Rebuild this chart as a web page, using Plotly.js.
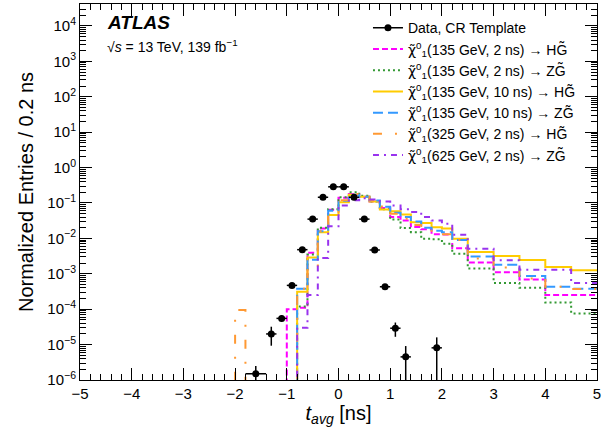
<!DOCTYPE html>
<html>
<head>
<meta charset="utf-8">
<script src="https://cdn.plot.ly/plotly-3.0.1.min.js"></script>
<style>html,body{margin:0;padding:0;background:#fff;}#plot{width:613px;height:436px;}</style>
</head>
<body>
<div id="plot"></div>
<script>
// Bin edges (ns)
var binEdges = [-2.2,-2.0,-1.8,-1.6,-1.4,-1.2,-1.0,-0.8,-0.6,-0.4,-0.2,0.0,0.2,0.4,0.6,0.8,1.0,1.2,1.4,1.6,1.8,2.0,2.2,2.5,3.0,3.5,4.0,4.5,5.0];

// Signal templates (normalized entries per bin)
var sigH135_2ns  = [0,0,0,0,0,0, 1.0e-4,1.1e-4,3.9e-3,0.019,0.064,0.14,0.18,0.15,0.11,0.072,0.040,0.032,0.021,0.018,0.013,0.0128,0.0053,2.1e-3,1.1e-3,6.9e-4,2.5e-4,2.5e-4];
var sigZ135_2ns  = [0,0,0,0,0,0, 0,1.2e-4,3.5e-3,0.020,0.067,0.145,0.20,0.16,0.11,0.067,0.034,0.0195,0.015,0.0097,0.0094,0.0071,0.0037,1.4e-3,5.5e-4,4.0e-4,1.55e-4,7.6e-5];
var sigH135_10ns = [0,0,0,0,0,0, 0,3.1e-4,2.9e-3,0.015,0.046,0.105,0.17,0.15,0.11,0.065,0.058,0.047,0.0285,0.027,0.0206,0.019,0.0098,4.1e-3,3.2e-3,2.45e-3,1.55e-3,1.26e-3];
var sigZ135_10ns = [0,0,0,0,0,0, 0,3.8e-4,2.5e-3,0.016,0.060,0.115,0.17,0.15,0.117,0.078,0.053,0.040,0.030,0.020,0.0165,0.015,0.009,3.1e-3,1.8e-3,8.7e-4,4.3e-4,3.8e-4];
var sigH325_2ns  = [0,9.5e-5,0,0,0,0, 0,3.8e-4,1.6e-3,0.016,0.055,0.12,0.18,0.15,0.117,0.080,0.050,0.036,0.024,0.018,0.015,0.013,0.009,2.7e-3,1.5e-3,7.3e-4,4.3e-4,3.7e-4];
var sigZ625_2ns  = [0,0,0,0,0,0, 0,3.0e-5,2.5e-4,2.8e-3,0.022,0.085,0.12,0.135,0.125,0.11,0.085,0.067,0.056,0.040,0.032,0.026,0.0126,5.1e-3,2.4e-3,1.3e-3,1.3e-3,5.5e-4];

// Data, CR template
var dataX    = [-1.6,-1.3,-1.1,-0.9,-0.7,-0.5,-0.3,-0.1,0.1,0.3,0.5,0.7,0.9,1.1,1.3,1.9];
var dataY    = [1.5e-6,2.0e-5,5.5e-5,4.7e-4,4.8e-3,0.035,0.145,0.286,0.286,0.145,0.035,4.7e-3,4.3e-4,2.9e-5,4.5e-6,8.1e-6];
var dataErrUp   = [1.0e-6,1.2e-5,1.2e-5,5e-5,2e-4,8e-4,2e-3,3e-3,3e-3,2e-3,8e-4,2e-4,5e-5,1.3e-5,4.6e-6,7.9e-6];
var dataErrDown = [1.4e-6,1.07e-5,1.0e-5,4.5e-5,2e-4,8e-4,2e-3,3e-3,3e-3,2e-3,8e-4,2e-4,4.5e-5,1.24e-5,4.4e-6,8.0e-6];
var dataXHalf   = [0.2,0.1,0.1,0.1,0.1,0.1,0.1,0.1,0.1,0.1,0.1,0.1,0.1,0.1,0.1,0.1];

// Axis tick labels
var yTickVals = [1e-6,1e-5,1e-4,1e-3,1e-2,1e-1,1e0,1e1,1e2,1e3,1e4];
var yTickLabels = ['10<sup>−6</sup>','10<sup>−5</sup>','10<sup>−4</sup>','10<sup>−3</sup>','10<sup>−2</sup>','10<sup>−1</sup>','10<sup>0</sup>','10<sup>1</sup>','10<sup>2</sup>','10<sup>3</sup>','10<sup>4</sup>'];

var chi = '<span style="font-family:DejaVu Sans">χ̃</span>';
var seriesNames = [
  chi + '<sup>0</sup><sub>1</sub>(135 GeV, 2 ns) → HG̃',
  chi + '<sup>0</sup><sub>1</sub>(135 GeV, 2 ns) → ZG̃',
  chi + '<sup>0</sup><sub>1</sub>(135 GeV, 10 ns) → HG̃',
  chi + '<sup>0</sup><sub>1</sub>(135 GeV, 10 ns) → ZG̃',
  chi + '<sup>0</sup><sub>1</sub>(325 GeV, 2 ns) → HG̃',
  chi + '<sup>0</sup><sub>1</sub>(625 GeV, 2 ns) → ZG̃'
];
var seriesVals = [sigH135_2ns, sigZ135_2ns, sigH135_10ns, sigZ135_10ns, sigH325_2ns, sigZ625_2ns];
var seriesStyle = [
  {color:'#ff00ff', dash:'6px,3px'},
  {color:'#339933', dash:'2px,3px'},
  {color:'#ffcc00', dash:'solid'},
  {color:'#3399ff', dash:'10px,5px'},
  {color:'#ff9933', dash:'9px,13px,2px,13px'},
  {color:'#9933ee', dash:'6px,5px,2px,5px'}
];

function stepY(vals){
  var out = vals.map(function(v){ return v > 0 ? v : 1e-12; });
  out.push(out[out.length-1]);
  return out;
}

var traces = [];
traces.push({x:[null], y:[null], type:'scatter', mode:'lines+markers', name:'Data, CR Template',
  line:{color:'black', width:1.5}, marker:{color:'black', size:7}, showlegend:true});
for (var i=0;i<seriesVals.length;i++){
  traces.push({x:binEdges, y:stepY(seriesVals[i]), type:'scatter', mode:'lines', name:seriesNames[i],
    line:{shape:'hv', color:seriesStyle[i].color, dash:seriesStyle[i].dash, width:2}, hoverinfo:'skip'});
}
traces.push({x:dataX, y:dataY, type:'scatter', mode:'markers', showlegend:false,
  marker:{color:'black', size:7},
  error_y:{type:'data', symmetric:false, array:dataErrUp, arrayminus:dataErrDown, color:'black', thickness:1.5, width:0},
  error_x:{type:'data', array:dataXHalf, color:'black', thickness:1.5, width:0}});

var yMinor = [];
for (var e=-6; e<5; e++){ for (var d=2; d<=9; d++){ yMinor.push(d*Math.pow(10,e)); } }

var fontFam = 'Liberation Sans, Arial, Helvetica, sans-serif';
var layout = {
  width:613, height:436,
  margin:{l:80, r:16, t:4, b:56},
  paper_bgcolor:'white', plot_bgcolor:'white',
  font:{family:fontFam, color:'black', size:15},
  showlegend:true,
  legend:{x:0.557, y:0.978, xanchor:'left', yanchor:'top', bgcolor:'rgba(0,0,0,0)', font:{size:14, family:fontFam}, itemwidth:30, tracegroupgap:0},
  xaxis:{range:[-5,5], tickmode:'linear', tick0:-5, dtick:1, ticks:'inside', ticklen:12, tickwidth:1, tickcolor:'black',
    showline:true, linecolor:'black', linewidth:1, mirror:'ticks', zeroline:false, showgrid:false,
    tickfont:{size:15},
    minor:{ticks:'inside', ticklen:6, tickwidth:1, tickcolor:'black', dtick:0.2, tick0:-5, showgrid:false},
    title:{text:'<i>t</i><sub><i>avg</i></sub> [ns]', font:{size:20}, standoff:0}},
  yaxis:{type:'log', range:[-6,4.62], tickmode:'array', tickvals:yTickVals, ticktext:yTickLabels,
    ticks:'inside', ticklen:12, tickwidth:1, tickcolor:'black',
    showline:true, linecolor:'black', linewidth:1, mirror:'ticks', zeroline:false, showgrid:false,
    tickfont:{size:15},
    minor:{ticks:'inside', ticklen:6, tickwidth:1, tickcolor:'black', tickmode:'array', tickvals:yMinor, showgrid:false},
    title:{text:'Normalized Entries / 0.2 ns', font:{size:20}, standoff:8}},
  annotations:[
    {xref:'paper', yref:'paper', x:0.048, y:0.985, xanchor:'left', yanchor:'top', showarrow:false,
      text:'<b><i>ATLAS</i></b>', font:{size:19, family:fontFam}},
    {xref:'paper', yref:'paper', x:0.048, y:0.918, xanchor:'left', yanchor:'top', showarrow:false,
      text:'√<i>s</i> = 13 TeV, 139 fb<sup>−1</sup>', font:{size:14, family:fontFam}}
  ]
};
Plotly.newPlot('plot', traces, layout, {displayModeBar:false, staticPlot:true});
</script>
</body>
</html>
